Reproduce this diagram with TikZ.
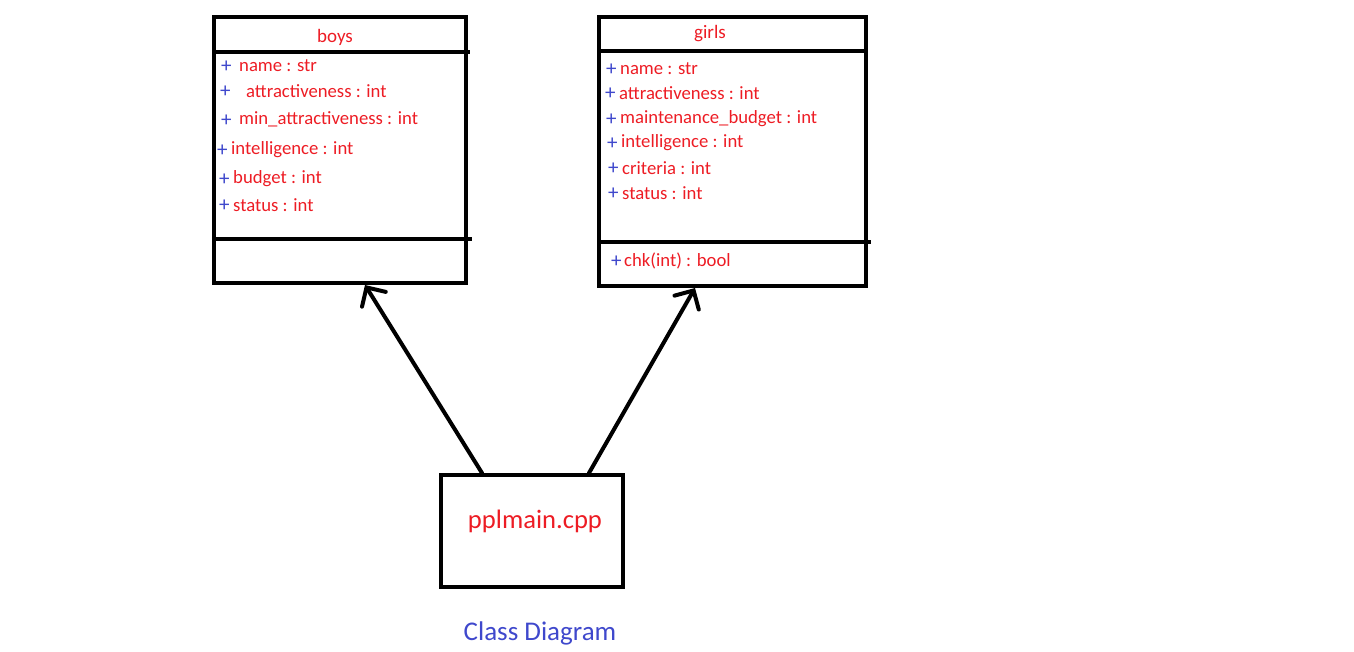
\documentclass[tikz,border=0pt]{standalone}
\usepackage{fontspec}
\setmainfont{Carlito}
\usetikzlibrary{arrows.meta}
\definecolor{txtred}{HTML}{ED1C24}
\definecolor{plusblue}{HTML}{3F48CC}
\begin{document}
\begin{tikzpicture}[x=1pt,y=-1pt,
  box/.style={draw=black,line width=4pt,rectangle,inner sep=0pt},
  divider/.style={draw=black,line width=4pt},
  attr/.style={anchor=west,inner sep=0pt,text=txtred,font=\fontsize{18.7}{21}\selectfont},
  plus/.style={anchor=west,inner sep=0pt,yshift=-2pt,text=plusblue,font=\fontsize{21}{23}\selectfont},
  title/.style={inner sep=0pt,text=txtred,font=\fontsize{19}{21}\selectfont},
  link/.style={draw=black,line width=4pt,line cap=round,-{Straight Barb[length=14pt,width=28pt,line cap=round]}}
]
\useasboundingbox (0,0) rectangle (1354,651);
% boxes
\node[box,minimum width=252pt,minimum height=266pt] (boys) at (340,150) {};
\node[box,minimum width=267pt,minimum height=269pt] (girls) at (732.5,151.5) {};
\node[box,minimum width=182pt,minimum height=112pt] (ppl) at (532,531) {};
% dividers
\draw[divider] (214,52) -- (470,52);
\draw[divider] (214,239) -- (472,239);
\draw[divider] (599,51) -- (866,51);
\draw[divider] (599,242) -- (871,242);
% titles
\node[title] (boystitle) at (335,37) {boys};
\node[title] (girlstitle) at (710,34) {girls};
% boys attributes
\node[plus] (bp1) at (221,65) {+};  \node[attr] (ba1) at (239,66) {name : str};
\node[plus] (bp2) at (220,90) {+};  \node[attr] (ba2) at (246,91) {attractiveness : int};
\node[plus] (bp3) at (221,119) {+}; \node[attr] (ba3) at (239,119) {min\_attractiveness : int};
\node[plus] (bp4) at (217,149) {+}; \node[attr] (ba4) at (231,150) {intelligence : int};
\node[plus] (bp5) at (219,178) {+}; \node[attr] (ba5) at (233,179) {budget : int};
\node[plus] (bp6) at (219,204) {+}; \node[attr] (ba6) at (233,205) {status : int};
% girls attributes
\node[plus] (gp1) at (606,68) {+};  \node[attr] (ga1) at (620,69) {name : str};
\node[plus] (gp2) at (605,92) {+};  \node[attr] (ga2) at (619,93) {attractiveness : int};
\node[plus] (gp3) at (606,118) {+}; \node[attr] (ga3) at (620,119) {maintenance\_budget : int};
\node[plus] (gp4) at (607,142) {+}; \node[attr] (ga4) at (621,143) {intelligence : int};
\node[plus] (gp5) at (608,167) {+}; \node[attr] (ga5) at (622,168) {criteria : int};
\node[plus] (gp6) at (608,192) {+}; \node[attr] (ga6) at (622,193) {status : int};
\node[plus] (gp7) at (611,260) {+}; \node[attr] (ga7) at (624,261) {chk(int) : bool};
% main
\node[inner sep=0pt,text=txtred,font=\fontsize{26.6}{30}\selectfont] (ppltext) at (535,521) {pplmain.cpp};
\node[inner sep=0pt,text=plusblue,font=\fontsize{27}{30}\selectfont] (caption) at (540,633) {Class Diagram};
% connectors
\draw[link] ([xshift=-50pt]ppl.north) -- ([xshift=25pt]boys.south);
\draw[link] ([xshift=57pt]ppl.north) -- ([xshift=-37.5pt]girls.south);
\end{tikzpicture}
\end{document}
